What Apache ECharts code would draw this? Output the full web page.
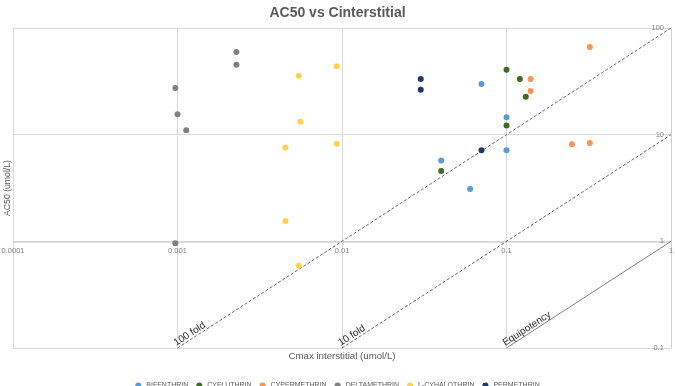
<!DOCTYPE html>
<html>
<head>
<meta charset="utf-8">
<script src="https://cdn.jsdelivr.net/npm/echarts@6/dist/echarts.min.js"></script>
<style>html,body{margin:0;padding:0;background:#fff}#chart{width:675px;height:386px}</style>
</head>
<body>
<div id="chart"></div>
<script>
// ---- data ----
const seriesNames = ['BIFENTHRIN','CYFLUTHRIN','CYPERMETHRIN','DELTAMETHRIN','L-CYHALOTHRIN','PERMETHRIN'];
const bifenthrinX = [0.0705, 0.0401, 0.0601, 0.1, 0.1];
const bifenthrinY = [29.9, 5.74, 3.10, 14.6, 7.13];
const cyfluthrinX = [0.0401, 0.1, 0.1205, 0.131, 0.1];
const cyfluthrinY = [4.57, 40.7, 33.3, 22.7, 12.2];
const cypermethrinX = [0.321, 0.14, 0.14, 0.25, 0.321];
const cypermethrinY = [66.4, 33.3, 25.7, 8.11, 8.36];
const deltamethrinX = [0.00097, 0.001, 0.00113, 0.00228, 0.00228, 0.00097];
const deltamethrinY = [27.4, 15.5, 11.0, 59.6, 45.3, 0.96];
const lcyhalothrinX = [0.00546, 0.00558, 0.00453, 0.00453, 0.00546, 0.0093, 0.0093];
const lcyhalothrinY = [35.7, 13.2, 7.6, 1.55, 0.59, 43.7, 8.2];
const permethrinX = [0.0301, 0.0301, 0.0705];
const permethrinY = [33.3, 26.4, 7.13];

// reference lines: AC50 = fold * Cmax
const refNames = ['100 fold', '10 fold', 'Equipotency'];
const refX = [[0.001, 1], [0.01, 1], [0.1, 1]];
const refY = [[0.1, 100], [0.1, 10], [0.1, 1]];

const xTickValues = [0.0001, 0.001, 0.01, 0.1, 1];
const xTickLabels = ['0.0001', '0.001', '0.01', '0.1', '1'];
const yTickValues = [0.1, 1, 10, 100];
const yTickLabels = ['0.1', '1', '10', '100'];

const colors = ['#5B9BD5', '#3F6B22', '#F4965A', '#808080', '#FFD34F', '#203864'];

// ---- chart ----
const FONT = 'Liberation Sans';
const gridTop = 28, gridBottom = 38, H = 386;
const gridH = H - gridTop - gridBottom;

function pairs(xs, ys) { return xs.map((x, i) => [x, ys[i]]); }
function labelFor(arr, vals) {
  return function (v) {
    for (let i = 0; i < vals.length; i++) if (Math.abs(Math.log10(v) - Math.log10(vals[i])) < 1e-6) return arr[i];
    return '';
  };
}

const scatterData = [
  pairs(bifenthrinX, bifenthrinY),
  pairs(cyfluthrinX, cyfluthrinY),
  pairs(cypermethrinX, cypermethrinY),
  pairs(deltamethrinX, deltamethrinY),
  pairs(lcyhalothrinX, lcyhalothrinY),
  pairs(permethrinX, permethrinY)
];

const series = [];
refNames.forEach((name, k) => {
  const d = refX[k].map((x, i) => {
    const item = { value: [x, refY[k][i]] };
    if (i === 0) {
      item.label = {
        show: true, formatter: name, position: [0, 0], align: 'left', verticalAlign: 'bottom',
        rotate: 33, color: '#262626', fontSize: 10, fontFamily: FONT, distance: 0
      };
    }
    return item;
  });
  series.push({
    name: name, type: 'line', data: d, symbol: 'circle', symbolSize: 0.01, showSymbol: true,
    itemStyle: { color: 'rgba(0,0,0,0)' },
    lineStyle: k < 2 ? { color: '#404040', width: 0.8, type: [3, 2] } : { color: '#7F7F7F', width: 1 },
    silent: true, z: 1, label: { show: false }
  });
});
seriesNames.forEach((name, i) => {
  series.push({
    name: name, type: 'scatter', data: scatterData[i], symbol: 'circle', symbolSize: 6,
    itemStyle: { color: colors[i], opacity: 1 }, z: 3
  });
});

const chart = echarts.init(document.getElementById('chart'), null, { renderer: 'canvas' });
chart.setOption({
  animation: false,
  backgroundColor: '#fff',
  title: {
    text: 'AC50 vs Cinterstitial', left: 'center', top: 1,
    textStyle: { fontFamily: FONT, fontSize: 14, fontWeight: 'bold', color: '#595959' }
  },
  legend: {
    data: seriesNames, top: 377, left: 'center', icon: 'circle', itemWidth: 6, itemHeight: 6, itemGap: 8,
    textStyle: { fontFamily: FONT, fontSize: 7, color: '#595959' }
  },
  grid: { left: 13, right: 4, top: gridTop, bottom: gridBottom, containLabel: false, outerBoundsMode: 'none' },
  xAxis: [
    {
      type: 'log', logBase: 10, min: 0.0001, max: 1, position: 'bottom', offset: -gridH / 3,
      axisLine: { show: true, lineStyle: { color: '#D4D4D4', width: 1.6 } },
      axisTick: { show: false },
      axisLabel: { fontFamily: FONT, fontSize: 7.5, color: '#7F7F7F', margin: 6, formatter: labelFor(xTickLabels, xTickValues), showMinLabel: true, showMaxLabel: true },
      splitLine: { show: true, lineStyle: { color: '#D9D9D9', width: 1 } }
    },
    {
      type: 'log', logBase: 10, min: 0.0001, max: 1, position: 'bottom', offset: 0,
      name: 'Cmax interstitial (umol/L)', nameLocation: 'middle', nameGap: 3,
      nameTextStyle: { fontFamily: FONT, fontSize: 9.7, color: '#595959' },
      axisLine: { show: false }, axisTick: { show: false }, axisLabel: { show: false }, splitLine: { show: false }
    }
  ],
  yAxis: [
    {
      type: 'log', logBase: 10, min: 0.1, max: 100, position: 'right',
      axisLine: { show: true, lineStyle: { color: '#D0D0D0', width: 1 } },
      axisTick: { show: false },
      axisLabel: { inside: true, margin: 7, fontFamily: FONT, fontSize: 7.5, color: '#7F7F7F', formatter: labelFor(yTickLabels, yTickValues), showMinLabel: true, showMaxLabel: true },
      splitLine: { show: true, lineStyle: { color: '#D9D9D9', width: 1 } }
    },
    {
      type: 'log', logBase: 10, min: 0.1, max: 100, position: 'left',
      name: 'AC50 (umol/L)', nameLocation: 'middle', nameGap: 1, nameRotate: 90,
      nameTextStyle: { fontFamily: FONT, fontSize: 8.7, color: '#595959' },
      axisLine: { show: false }, axisTick: { show: false }, axisLabel: { show: false }, splitLine: { show: false }
    }
  ],
  series: series
});
</script>
</body>
</html>
